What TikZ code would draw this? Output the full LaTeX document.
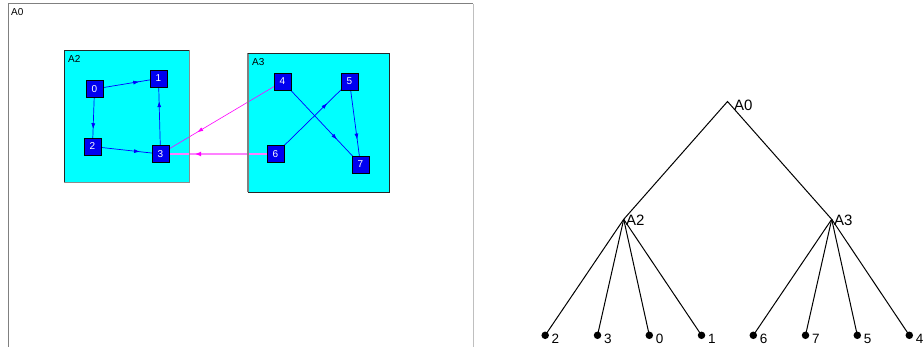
\documentclass[tikz,border=0pt]{standalone}
\usepackage{fontspec}
\setmainfont{Liberation Sans}
\usetikzlibrary{arrows.meta,decorations.markings}
\pgfdeclarelayer{bg}
\pgfdeclarelayer{edges}
\pgfsetlayers{bg,edges,main}
\definecolor{boxcyan}{RGB}{0,255,255}
\definecolor{nodeblue}{RGB}{0,0,240}
\definecolor{edgeblue}{RGB}{0,0,255}
\definecolor{pinkline}{RGB}{255,128,255}
\definecolor{magline}{RGB}{255,0,255}
\tikzset{
  boxst/.style={fill=boxcyan, inner sep=0pt, anchor=north west},
  boxlbl/.style={anchor=north west, inner sep=0pt, font=\fontsize{10}{11}\selectfont},
  vnode/.style={draw=black, fill=nodeblue, text=white, minimum size=17pt, inner sep=0pt, font=\fontsize{10}{11}\selectfont},
  midarrow/.style={postaction={decorate}, decoration={markings, mark=at position 0.7 with {\arrow{Latex[length=6pt,width=4pt]}}}},
  bluee/.style={draw=edgeblue, line width=0.7pt, midarrow},
  mage/.style={draw=magline, line width=0.6pt, midarrow},
  pinke/.style={draw=pinkline, line width=2pt, postaction={decorate}, decoration={markings, mark=at position 0.7 with {\arrow[magline]{Latex[length=6pt,width=5pt]}}}},
  leaf/.style={circle, fill=black, minimum size=7.5pt, inner sep=0pt},
  tlbl/.style={anchor=west, inner sep=0pt, font=\fontsize{13.5}{15}\selectfont},
  tint/.style={anchor=west, inner sep=0pt, font=\fontsize{15}{16}\selectfont},
  tedge/.style={draw=black, line width=1pt}
}
\begin{document}
\begin{tikzpicture}[x=1pt,y=-1pt]
\useasboundingbox (0,0) rectangle (923,347);
% outer frame A0
\draw[black!50, line width=1pt] (8,347) -- (8,4) -- (473,4);
\draw[black!25, line width=0.8pt] (473,4) -- (473,347);
\node[boxlbl] (a0lbl) at (11,8) {A0};
% cluster boxes
\begin{pgfonlayer}{bg}
\node[boxst, minimum width=125pt, minimum height=132pt] (A2) at (64,50) {};
\node[boxst, minimum width=141pt, minimum height=139pt] (A3) at (248,53) {};
\end{pgfonlayer}
\draw[black!85, line width=0.7pt] (A2.south west) -- (A2.north west) -- (A2.north east);
\draw[black!45, line width=0.7pt] (A2.north east) -- (A2.south east) -- (A2.south west);
\draw[black!50, line width=1.3pt] (A3.south west) -- (A3.north west);
\draw[black!85, line width=0.7pt] (A3.north west) -- (A3.north east) -- (A3.south east) -- (A3.south west);
\node[boxlbl] (a2lbl) at (68,55) {A2};
\node[boxlbl] (a3lbl) at (252,58) {A3};
% vertices
\node[vnode] (n0) at (94.5,89) {0};
\node[vnode] (n1) at (158.5,78.5) {1};
\node[vnode] (n2) at (92.5,146.5) {2};
\node[vnode] (n3) at (160.5,154) {3};
\node[vnode] (n4) at (282.5,81.5) {4};
\node[vnode] (n5) at (349.5,81.5) {5};
\node[vnode] (n6) at (275.5,154) {6};
\node[vnode] (n7) at (360.5,164.5) {7};
% edges
\begin{pgfonlayer}{edges}
\path[bluee] (n0.center) -- (n1.center);
\path[bluee] (n0.center) -- (n2.center);
\path[bluee] (n2.center) -- (n3.center);
\path[bluee] (n3.center) -- (n1.center);
\path[bluee] (n4.center) -- (n7.center);
\path[bluee] (n6.center) -- (n5.center);
\path[bluee] (n5.center) -- (n7.center);
\path[mage] (n4.center) -- (n3.center);
\path[pinke] (n6.center) -- (n3.center);
\end{pgfonlayer}
% tree
\coordinate (T0) at (727.5,101.5);
\coordinate (T2) at (623.7,219.3);
\coordinate (T3) at (831.7,219.3);
\node[tint] (t0lbl) at (734,105) {A0};
\node[tint] (t2lbl) at (626,220.5) {A2};
\node[tint] (t3lbl) at (834,220.5) {A3};
\draw[tedge] (T2) -- (T0) -- (T3);
\node[leaf] (l2) at (545.2,335.3) {};
\node[leaf] (l3) at (597.5,335.3) {};
\node[leaf] (l0) at (649.3,335.3) {};
\node[leaf] (l1) at (701.5,335.3) {};
\node[leaf] (l6) at (753.3,335.3) {};
\node[leaf] (l7) at (805.5,335.3) {};
\node[leaf] (l5) at (857.3,335.3) {};
\node[leaf] (l4) at (909.3,335.3) {};
\foreach \l in {l2,l3,l0,l1} { \draw[tedge] (T2) -- (\l.center); }
\foreach \l in {l6,l7,l5,l4} { \draw[tedge] (T3) -- (\l.center); }
\node[tlbl] (t2) at (551.5,338.5) {2};
\node[tlbl] (t3) at (603.8,338.5) {3};
\node[tlbl] (t0) at (655.6,338.5) {0};
\node[tlbl] (t1) at (707.8,338.5) {1};
\node[tlbl] (t6) at (759.6,338.5) {6};
\node[tlbl] (t7) at (811.8,338.5) {7};
\node[tlbl] (t5) at (863.6,338.5) {5};
\node[tlbl] (t4) at (915.6,338.5) {4};
\end{tikzpicture}
\end{document}
